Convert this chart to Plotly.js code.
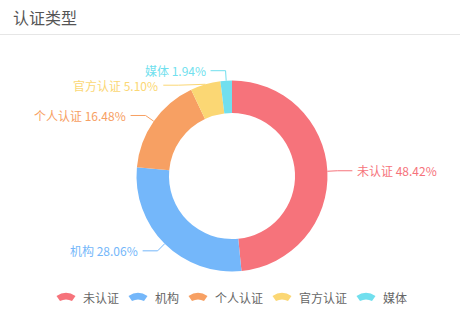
<!DOCTYPE html>
<html><head><meta charset="utf-8">
<script src="https://cdn.plot.ly/plotly-3.0.1.min.js"></script>
<style>html,body{margin:0;padding:0;background:#fff;}#chart{width:460px;height:319px;}</style>
</head><body><div id="chart"></div>
<script>
// ---- data ----
const chartTitle = '认证类型';
const categories = ['未认证', '机构', '个人认证', '官方认证', '媒体'];
const values = [48.42, 28.06, 16.48, 5.10, 1.94];
const colors = ['#F6737B', '#74B7FA', '#F7A063', '#FBD774', '#71DFEE'];

// ---- layout constants ----
const W = 460, H = 319;
const CX = 232, CY = 176, R = 95.5, HOLE = 0.66;
const LEN = 10, LEN2 = 15, GAP = 14.5;
const FONT = 'Noto Sans CJK SC, Microsoft YaHei, sans-serif';
const PX = x => x / W, PY = y => 1 - y / H;

const total = values.reduce((a, b) => a + b, 0);

// compute label geometry from the data
let cum = 0;
const items = values.map((v, i) => {
  const mid = (cum + v / 2) / total * 2 * Math.PI; cum += v;
  const s = Math.sin(mid), c = -Math.cos(mid);
  return {
    i, dir: s >= 0 ? 1 : -1,
    ax: CX + R * s, ay: CY + R * c,
    ex: CX + (R + LEN) * s, ey: CY + (R + LEN) * c,
    y: CY + (R + LEN) * c
  };
});
['L', 'R'].forEach(side => {
  const list = items.filter(it => (side === 'R') === (it.dir > 0)).sort((a, b) => a.y - b.y);
  let shifted = false;
  for (let k = 1; k < list.length; k++) {
    if (list[k].y - list[k - 1].y < GAP) { list[k].y = list[k - 1].y + GAP; shifted = true; }
  }
  if (shifted) {
    // recompute x on an ellipse (top semi)
    const top = list.filter(it => it.y < CY);
    if (top.length) {
      let far = top[0];
      const rA = R + LEN;
      const dy0 = Math.abs(far.y - CY), dx0 = Math.abs(far.ex - CX);
      const rB = dx0 < rA ? Math.sqrt(dy0 * dy0 / (1 - dx0 * dx0 / rA / rA)) : rA;
      top.forEach(it => {
        const dy = Math.abs(it.y - CY);
        const dx = Math.sqrt(Math.max(0, 1 - dy * dy / rB / rB)) * rA;
        it.ex = CX + dx * it.dir;
      });
    }
  }
});

const shapes = [];
const annotations = [];

// title + divider
annotations.push({
  xref: 'paper', yref: 'paper', x: PX(11), y: PY(17), xanchor: 'left', yanchor: 'middle',
  text: chartTitle, showarrow: false, font: {family: FONT, size: 16, color: '#555'}
});
shapes.push({type: 'line', xref: 'paper', yref: 'paper', x0: 0, x1: 1, y0: PY(34.5), y1: PY(34.5),
  line: {color: '#E6E6E6', width: 1}});

// leader lines + labels
items.forEach(it => {
  const endX = it.ex + LEN2 * it.dir;
  shapes.push({
    type: 'path', xref: 'paper', yref: 'paper',
    path: `M${PX(it.ax)},${PY(it.ay)} L${PX(it.ex)},${PY(it.y)} L${PX(endX)},${PY(it.y)}`,
    line: {color: colors[it.i], width: 1}
  });
  annotations.push({
    xref: 'paper', yref: 'paper', x: PX(endX + 3 * it.dir), y: PY(it.y),
    xanchor: it.dir > 0 ? 'left' : 'right', yanchor: 'middle', showarrow: false,
    text: categories[it.i] + ' ' + values[it.i].toFixed(2) + '%',
    font: {family: FONT, size: 12, color: colors[it.i]}
  });
});

// custom legend (fan icons)
const ICON_W = 19, ICON_GAP = 6, ITEM_GAP = 11, LEG_Y = 297;
const textW = categories.map(c => c.length * 12);
const legW = textW.reduce((a, b) => a + b, 0) + categories.length * (ICON_W + ICON_GAP) + (categories.length - 1) * ITEM_GAP;
let lx = (W - legW) / 2 + 1;
categories.forEach((c, i) => {
  const cx = lx + ICON_W / 2, cy = LEG_Y;
  const p = (dx, dy) => `${PX(cx + dx)},${PY(cy + dy)}`;
  shapes.push({
    type: 'path', xref: 'paper', yref: 'paper',
    path: `M${p(-9.5, -1)} Q${p(0, -7.5)} ${p(9.5, -1)} L${p(6, 4)} Q${p(0, 1)} ${p(-6, 4)} Z`,
    fillcolor: colors[i], line: {width: 0}
  });
  annotations.push({
    xref: 'paper', yref: 'paper', x: PX(lx + ICON_W + ICON_GAP - 1), y: PY(LEG_Y),
    xanchor: 'left', yanchor: 'middle', showarrow: false, text: c,
    font: {family: FONT, size: 12, color: '#666'}
  });
  lx += ICON_W + ICON_GAP + textW[i] + ITEM_GAP;
});

const trace = {
  type: 'pie', labels: categories, values: values, sort: false,
  direction: 'clockwise', rotation: 0, hole: HOLE,
  marker: {colors: colors, line: {width: 0}},
  textinfo: 'none', hoverinfo: 'none', showlegend: false,
  domain: {x: [PX(CX - R), PX(CX + R)], y: [PY(CY + R), PY(CY - R)]}
};

const layout = {
  width: W, height: H, margin: {l: 0, r: 0, t: 0, b: 0},
  paper_bgcolor: '#fff', plot_bgcolor: '#fff', showlegend: false,
  font: {family: FONT},
  shapes: shapes, annotations: annotations
};

Plotly.newPlot('chart', [trace], layout, {displayModeBar: false, staticPlot: true});
</script>
</body></html>
